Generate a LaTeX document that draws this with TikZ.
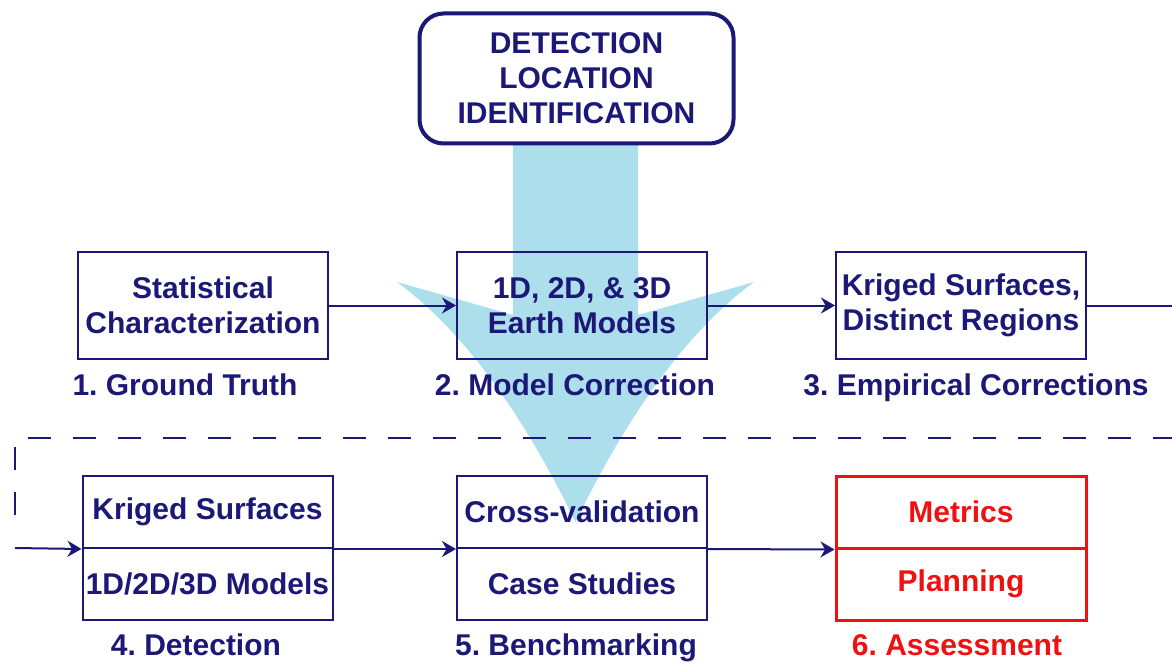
\documentclass[tikz,border=0pt]{standalone}
\usepackage{fontspec}
\setmainfont{Liberation Sans}
\usetikzlibrary{arrows.meta, positioning}
\definecolor{ink}{RGB}{28,24,120}
\definecolor{alert}{RGB}{240,16,16}
\definecolor{sky}{RGB}{172,222,236}
\tikzstyle{box} = [rectangle, minimum width=125pt, minimum height=53pt, inner xsep=2pt, align=center, draw=ink, line width=1pt, text=ink]
\tikzstyle{half} = [rectangle, minimum width=125pt, minimum height=36pt, inner xsep=1pt, align=center, draw=ink, line width=1pt, text=ink]
\tikzstyle{redhalf} = [half, draw=alert, text=alert, line width=1.5pt]
\tikzstyle{topbox} = [rectangle, rounded corners=12pt, minimum width=157pt, minimum height=65pt, align=center, draw=ink, line width=2pt, fill=white, text=ink]
\tikzstyle{lbl} = [inner sep=0pt, text height=11pt, text depth=3pt, text=ink]
\tikzstyle{arrow} = [ink, line width=1pt, -{Stealth[length=7pt, width=8pt]}]
\tikzstyle{link} = [ink, line width=1pt]
\tikzstyle{sep} = [ink, line width=1.2pt, dash pattern=on 11.5pt off 11pt]
\tikzstyle{bigarrow} = [fill=sky]

\begin{document}
\frenchspacing
\begin{tikzpicture}[x=0.5pt, y=-0.5pt, node distance=189.5pt, font=\fontsize{15pt}{17.5pt}\selectfont\bfseries]

\useasboundingbox (0,0) rectangle (1172,663);

\fill [bigarrow] (513,145) -- (513,315) -- (397,282) .. controls (462,330) and (521,410) .. (575.5,522)
  .. controls (630,410) and (689,330) .. (754,282) -- (638,315) -- (638,145) -- cycle;

\node (dli) [topbox] at (576.5,78.5) {DETECTION\\LOCATION\\IDENTIFICATION};

\node (mc) [box] at (582,305.5) {1D, 2D, \& 3D\\Earth Models};
\node (gt) [box, left of=mc] {Statistical\\Characterization};
\node (ec) [box, right of=mc] {Kriged Surfaces,\\Distinct Regions};

\node (ks) [half, below of=gt, node distance=103.25pt, xshift=2.25pt] {Kriged Surfaces};
\node (md) [half, below of=ks, node distance=36pt] {1D/2D/3D Models};
\node (cv) [half, below of=mc, node distance=103.25pt] {Cross-validation};
\node (cs) [half, below of=cv, node distance=36pt] {Case Studies};
\node (mt) [redhalf, below of=ec, node distance=103.25pt] {Metrics};
\node (pl) [redhalf, below of=mt, node distance=36pt] {Planning};

\node (gtl) [lbl, below=7pt of gt, xshift=-9pt] {1. Ground Truth};
\node (mcl) [lbl, below=7pt of mc, xshift=-3.5pt] {2. Model Correction};
\node (ecl) [lbl, below=7pt of ec, xshift=7.5pt] {3. Empirical Corrections};
\node (mdl) [lbl, below=6pt of md, xshift=-5.75pt] {4. Detection};
\node (csl) [lbl, below=6pt of cs, xshift=-3pt] {5. Benchmarking};
\node (pll) [lbl, below=6pt of pl, xshift=-2pt, text=alert] {6. Assessment};

\coordinate (outr) at (1172,305.5);
\coordinate (inl) at (15,548);

\draw [sep] (15,515) |- (1172,438);

\draw [arrow] (gt) -- (mc);
\draw [arrow] (mc) -- (ec);
\draw [link] (ec) -- (outr);
\draw [arrow] (inl) -- (ks.south west);
\draw [arrow] (ks.south east) -- (cv.south west);
\draw [arrow] (cv.south east) -- (mt.south west);

\end{tikzpicture}
\end{document}
